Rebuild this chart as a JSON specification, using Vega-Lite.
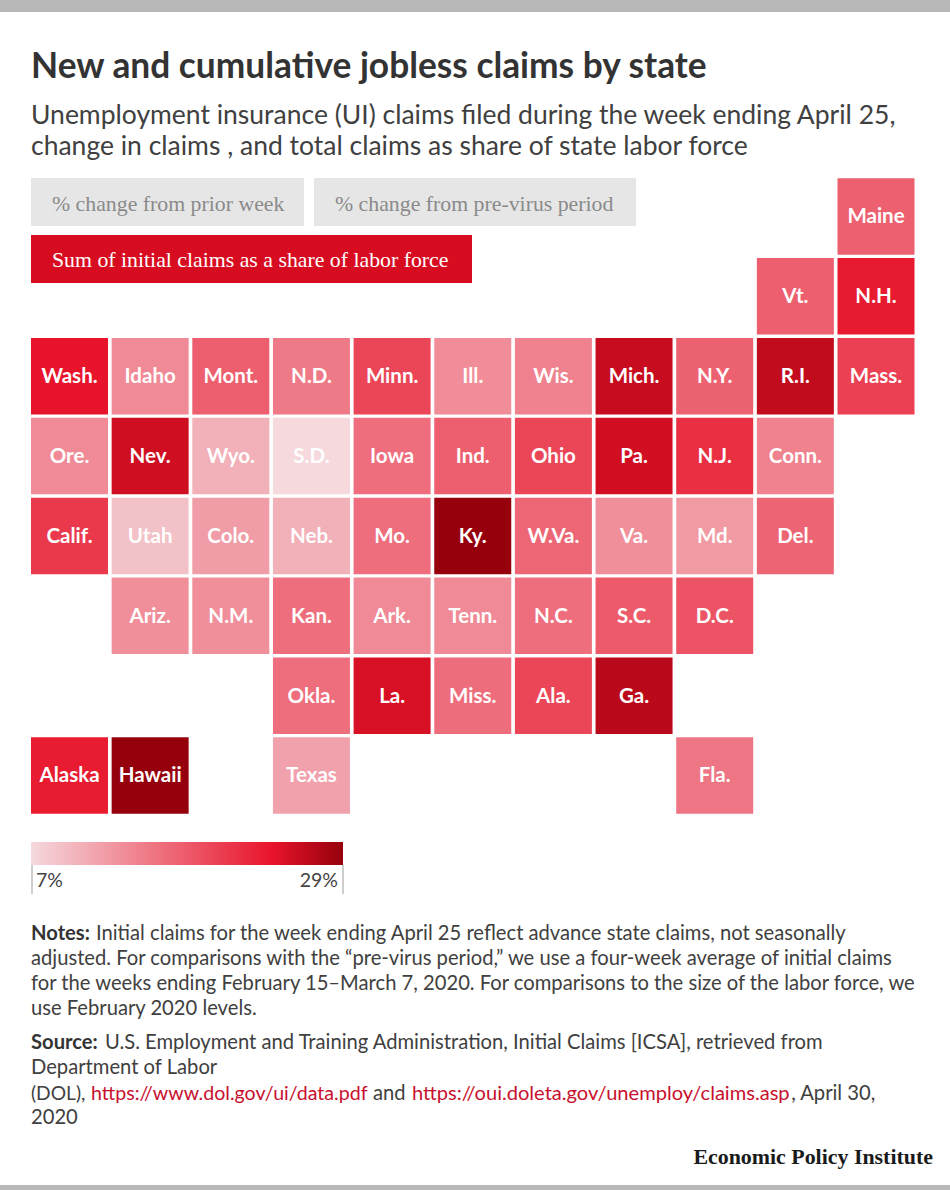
{"$schema":"https://vega.github.io/schema/vega-lite/v6.json","width":950,"height":1190,"padding":0,"autosize":{"type":"none"},"background":"white","config":{"view":{"stroke":null},"axis":{"disable":true}},
"title":{"text":"New and cumulative jobless claims by state","subtitle":["Unemployment insurance (UI) claims filed during the week ending April 25,","change in claims , and total claims as share of state labor force"],"anchor":"start","frame":"group","dx":31,"offset":-160,"font":"Lato","fontSize":35.3,"fontWeight":"bold","color":"#333333","subtitleFont":"Lato","subtitleFontSize":26.5,"subtitleColor":"#404040","subtitleLineHeight":31,"subtitlePadding":17},
"data":{"values":[{"state":"Maine","col":10,"row":0,"share":17.4},{"state":"Vt.","col":9,"row":1,"share":17.6},{"state":"N.H.","col":10,"row":1,"share":23.5},{"state":"Wash.","col":0,"row":2,"share":24},{"state":"Idaho","col":1,"row":2,"share":13.8},{"state":"Mont.","col":2,"row":2,"share":17.6},{"state":"N.D.","col":3,"row":2,"share":15.2},{"state":"Minn.","col":4,"row":2,"share":19.7},{"state":"Ill.","col":5,"row":2,"share":13.6},{"state":"Wis.","col":6,"row":2,"share":14.5},{"state":"Mich.","col":7,"row":2,"share":26},{"state":"N.Y.","col":8,"row":2,"share":17.3},{"state":"R.I.","col":9,"row":2,"share":26.3},{"state":"Mass.","col":10,"row":2,"share":20.2},{"state":"Ore.","col":0,"row":3,"share":13.8},{"state":"Nev.","col":1,"row":3,"share":25.5},{"state":"Wyo.","col":2,"row":3,"share":10.5},{"state":"S.D.","col":3,"row":3,"share":7},{"state":"Iowa","col":4,"row":3,"share":16.2},{"state":"Ind.","col":5,"row":3,"share":17.6},{"state":"Ohio","col":6,"row":3,"share":19.7},{"state":"Pa.","col":7,"row":3,"share":25.4},{"state":"N.J.","col":8,"row":3,"share":21.7},{"state":"Conn.","col":9,"row":3,"share":14.5},{"state":"Calif.","col":0,"row":4,"share":20.8},{"state":"Utah","col":1,"row":4,"share":9},{"state":"Colo.","col":2,"row":4,"share":12.2},{"state":"Neb.","col":3,"row":4,"share":10.5},{"state":"Mo.","col":4,"row":4,"share":16.2},{"state":"Ky.","col":5,"row":4,"share":29},{"state":"W.Va.","col":6,"row":4,"share":16.9},{"state":"Va.","col":7,"row":4,"share":13.4},{"state":"Md.","col":8,"row":4,"share":12.4},{"state":"Del.","col":9,"row":4,"share":17},{"state":"Ariz.","col":1,"row":5,"share":13.4},{"state":"N.M.","col":2,"row":5,"share":13.4},{"state":"Kan.","col":3,"row":5,"share":16.2},{"state":"Ark.","col":4,"row":5,"share":13.8},{"state":"Tenn.","col":5,"row":5,"share":13.8},{"state":"N.C.","col":6,"row":5,"share":16.2},{"state":"S.C.","col":7,"row":5,"share":18},{"state":"D.C.","col":8,"row":5,"share":18.5},{"state":"Okla.","col":3,"row":6,"share":16.2},{"state":"La.","col":4,"row":6,"share":25},{"state":"Miss.","col":5,"row":6,"share":16.3},{"state":"Ala.","col":6,"row":6,"share":19.7},{"state":"Ga.","col":7,"row":6,"share":26.8},{"state":"Alaska","col":0,"row":7,"share":23.4},{"state":"Hawaii","col":1,"row":7,"share":29},{"state":"Texas","col":3,"row":7,"share":11.8},{"state":"Fla.","col":8,"row":7,"share":15.6}]},
"layer":[
{"mark":{"type":"rect","width":77,"height":76.5},"encoding":{"x":{"field":"col","type":"quantitative","scale":{"domain":[-0.8617,10.9175],"nice":false,"zero":false}},"y":{"field":"row","type":"quantitative","scale":{"domain":[12.1905,-2.711],"nice":false,"zero":false}},"color":{"field":"share","type":"quantitative","scale":{"domain":[7,24,29],"range":["#f5d9dd","#e8142b","#96000c"],"interpolate":"rgb"},"legend":{"orient":"none","legendX":31,"legendY":842,"direction":"horizontal","gradientLength":312,"gradientThickness":23,"title":null,"values":[7,29],"labelExpr":"datum.label+'%'","labelFont":"Lato","labelFontSize":19.5,"labelColor":"#444444","labelOffset":7,"encode":{"labels":{"update":{"dx":{"signal":"datum.value<10?5:-5"}}}}}}}},
{"mark":{"type":"text","font":"Lato","fontWeight":"bold","fontSize":20.5,"color":"white","baseline":"middle","align":"center","dy":1},"encoding":{"x":{"field":"col","type":"quantitative"},"y":{"field":"row","type":"quantitative"},"text":{"field":"state"}}},
{"data":{"values":[{"band":"top"}]},"mark":{"type":"rect","color":"#b8b8b8"},"encoding":{"x":{"datum":-0.8617},"x2":{"datum":10.9175},"y":{"datum":-2.711},"y2":{"datum":-2.5607}}},
{"data":{"values":[{"band":"bottom"}]},"mark":{"type":"rect","color":"#b8b8b8"},"encoding":{"x":{"datum":-0.8617},"x2":{"datum":10.9175},"y":{"datum":12.1279},"y2":{"datum":12.1905}}},
{"data":{"values":[{"button":"week"}]},"mark":{"type":"rect","color":"#e6e6e6"},"encoding":{"x":{"datum":-0.4774},"x2":{"datum":2.9076},"y":{"datum":-0.4821},"y2":{"datum":0.119}}},
{"data":{"values":[{"button":"previrus"}]},"mark":{"type":"rect","color":"#e6e6e6"},"encoding":{"x":{"datum":3.0316},"x2":{"datum":7.024},"y":{"datum":-0.4821},"y2":{"datum":0.119}}},
{"data":{"values":[{"button":"share"}]},"mark":{"type":"rect","color":"#d80c20"},"encoding":{"x":{"datum":-0.4774},"x2":{"datum":4.9907},"y":{"datum":0.2317},"y2":{"datum":0.8327}}},
{"data":{"values":[{"text":"% change from prior week"}]},"mark":{"type":"text","font":"Liberation Serif","fontSize":21.8,"color":"#8a8a8a","align":"left","baseline":"middle"},"encoding":{"x":{"datum":-0.217},"y":{"datum":-0.1565},"text":{"field":"text"}}},
{"data":{"values":[{"text":"% change from pre-virus period"}]},"mark":{"type":"text","font":"Liberation Serif","fontSize":21.8,"color":"#8a8a8a","align":"left","baseline":"middle"},"encoding":{"x":{"datum":3.292},"y":{"datum":-0.1565},"text":{"field":"text"}}},
{"data":{"values":[{"text":"Sum of initial claims as a share of labor force"}]},"mark":{"type":"text","font":"Liberation Serif","fontSize":21.8,"color":"white","align":"left","baseline":"middle"},"encoding":{"x":{"datum":-0.217},"y":{"datum":0.5447},"text":{"field":"text"}}},
{"data":{"values":[{"tick":"low"}]},"mark":{"type":"rule","color":"#bdbdbd","strokeWidth":1.5},"encoding":{"x":{"datum":-0.465},"y":{"datum":8.1205},"y2":{"datum":8.4837}}},
{"data":{"values":[{"tick":"high"}]},"mark":{"type":"rule","color":"#bdbdbd","strokeWidth":1.5},"encoding":{"x":{"datum":3.3912},"y":{"datum":8.1205},"y2":{"datum":8.4837}}},
{"data":{"values":[{"text":"Notes:"}]},"mark":{"type":"text","font":"Lato","fontWeight":"bold","fontSize":20.2,"color":"#333333","align":"left","baseline":"alphabetic"},"encoding":{"x":{"datum":-0.4774},"y":{"datum":9.0596},"text":{"field":"text"}}},
{"data":{"values":[{"text":"Initial claims for the week ending April 25 reflect advance state claims, not seasonally"}]},"mark":{"type":"text","font":"Lato","fontSize":20.2,"color":"#404040","align":"left","baseline":"alphabetic"},"encoding":{"x":{"datum":0.3286},"y":{"datum":9.0596},"text":{"field":"text"}}},
{"data":{"values":[{"text":["adjusted. For comparisons with the “pre-virus period,” we use a four-week average of initial claims","for the weeks ending February 15–March 7, 2020. For comparisons to the size of the labor force, we","use February 2020 levels."]}]},"mark":{"type":"text","font":"Lato","fontSize":20.2,"lineHeight":25,"color":"#404040","align":"left","baseline":"alphabetic"},"encoding":{"x":{"datum":-0.4774},"y":{"datum":9.3726},"text":{"field":"text"}}},
{"data":{"values":[{"text":"Source:"}]},"mark":{"type":"text","font":"Lato","fontWeight":"bold","fontSize":20.2,"color":"#333333","align":"left","baseline":"alphabetic"},"encoding":{"x":{"datum":-0.4774},"y":{"datum":10.4245},"text":{"field":"text"}}},
{"data":{"values":[{"text":"U.S. Employment and Training Administration, Initial Claims [ICSA], retrieved from"}]},"mark":{"type":"text","font":"Lato","fontSize":20.2,"color":"#404040","align":"left","baseline":"alphabetic"},"encoding":{"x":{"datum":0.4402},"y":{"datum":10.4245},"text":{"field":"text"}}},
{"data":{"values":[{"text":"Department of Labor"}]},"mark":{"type":"text","font":"Lato","fontSize":20.2,"color":"#404040","align":"left","baseline":"alphabetic"},"encoding":{"x":{"datum":-0.4774},"y":{"datum":10.7375},"text":{"field":"text"}}},
{"data":{"values":[{"text":"(DOL),"}]},"mark":{"type":"text","font":"Lato","fontSize":19.2,"color":"#404040","align":"left","baseline":"alphabetic"},"encoding":{"x":{"datum":-0.4774},"y":{"datum":11.0631},"text":{"field":"text"}}},
{"data":{"values":[{"text":"https://www.dol.gov/ui/data.pdf"}]},"mark":{"type":"text","font":"Lato","fontSize":19.6,"color":"#c8102e","align":"left","baseline":"alphabetic"},"encoding":{"x":{"datum":0.2666},"y":{"datum":11.0631},"text":{"field":"text"}}},
{"data":{"values":[{"text":"and"}]},"mark":{"type":"text","font":"Lato","fontSize":20.2,"color":"#404040","align":"left","baseline":"alphabetic"},"encoding":{"x":{"datum":3.7632},"y":{"datum":11.0631},"text":{"field":"text"}}},
{"data":{"values":[{"text":"https://oui.doleta.gov/unemploy/claims.asp"}]},"mark":{"type":"text","font":"Lato","fontSize":20.1,"color":"#c8102e","align":"left","baseline":"alphabetic"},"encoding":{"x":{"datum":4.2468},"y":{"datum":11.0631},"text":{"field":"text"}}},
{"data":{"values":[{"text":", April 30,"}]},"mark":{"type":"text","font":"Lato","fontSize":20.2,"color":"#404040","align":"left","baseline":"alphabetic"},"encoding":{"x":{"datum":8.9477},"y":{"datum":11.0631},"text":{"field":"text"}}},
{"data":{"values":[{"text":"2020"}]},"mark":{"type":"text","font":"Lato","fontSize":20.2,"color":"#404040","align":"left","baseline":"alphabetic"},"encoding":{"x":{"datum":-0.4774},"y":{"datum":11.3636},"text":{"field":"text"}}},
{"data":{"values":[{"text":"Economic Policy Institute"}]},"mark":{"type":"text","font":"Liberation Serif","fontWeight":"bold","fontSize":21.9,"color":"#1a1a1a","align":"right","baseline":"alphabetic"},"encoding":{"x":{"datum":10.7063},"y":{"datum":11.8644},"text":{"field":"text"}}}
]}
